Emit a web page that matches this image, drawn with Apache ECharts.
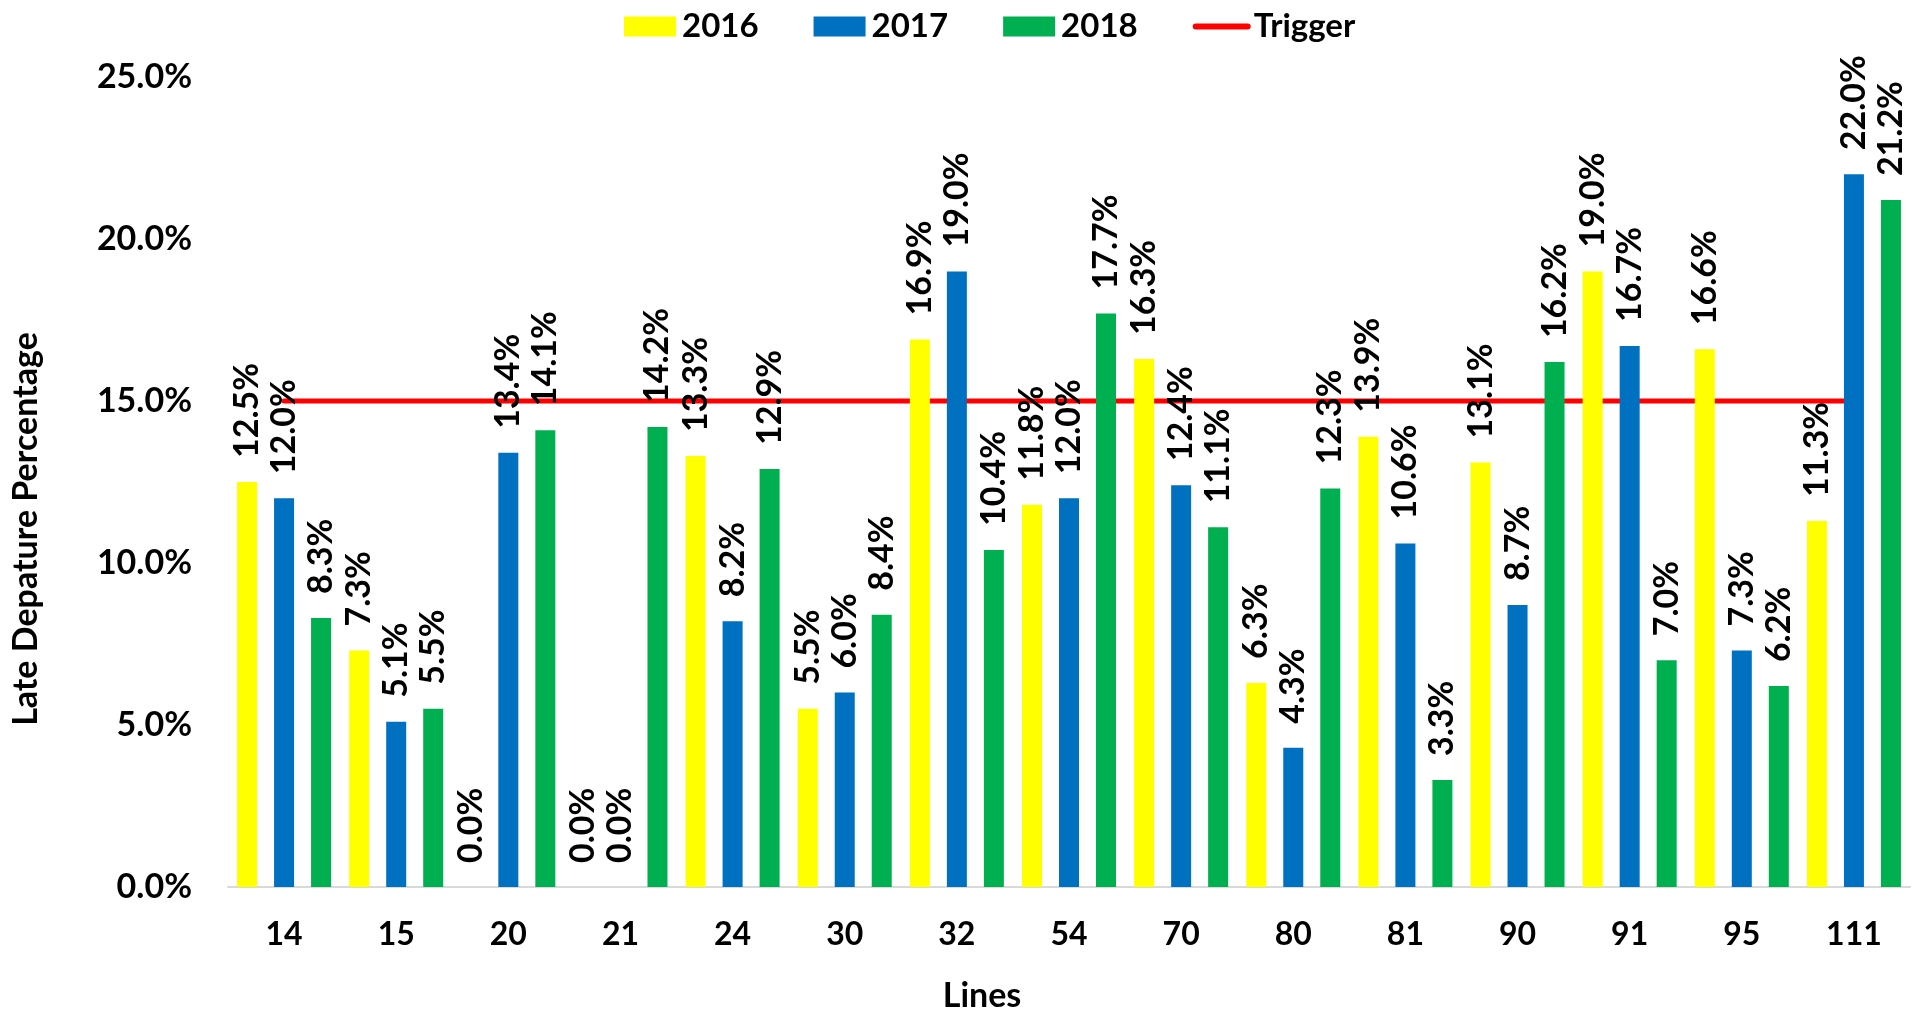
<!DOCTYPE html>
<html>
<head>
<meta charset="utf-8">
<title>Late Departure Percentage by Line</title>
<script src="https://cdn.jsdelivr.net/npm/echarts@6/dist/echarts.min.js"></script>
<style>
  html, body { margin: 0; padding: 0; background: #fff; }
  #chart { width: 1919px; height: 1009px; }
</style>
</head>
<body>
<div id="chart"></div>
<script>
  // lines (categories) and yearly late departure percentages
  const lines = ['14', '15', '20', '21', '24', '30', '32', '54', '70', '80', '81', '90', '91', '95', '111']
  const y2016 = [12.5, 7.3, 0.0, 0.0, 13.3, 5.5, 16.9, 11.8, 16.3, 6.3, 13.9, 13.1, 19.0, 16.6, 11.3]
  const y2017 = [12.0, 5.1, 13.4, 0.0, 8.2, 6.0, 19.0, 12.0, 12.4, 4.3, 10.6, 8.7, 16.7, 7.3, 22.0]
  const y2018 = [8.3, 5.5, 14.1, 14.2, 12.9, 8.4, 10.4, 17.7, 11.1, 12.3, 3.3, 16.2, 7.0, 6.2, 21.2]
  const triggerLevel = 15.0
  const yTicks = { min: 0, max: 25, interval: 5 }

  const FONT = 'Lato, "Noto Sans", sans-serif'

  const pct = v => v.toFixed(1) + '%'

  function barSeries (name, data, color) {
    return {
      name,
      type: 'bar',
      data,
      barWidth: 20,
      barGap: '85%',
      itemStyle: { color },
      label: {
        show: true,
        position: 'top',
        rotate: 90,
        align: 'left',
        verticalAlign: 'middle',
        distance: 24,
        color: '#000',
        fontFamily: FONT,
        fontWeight: 'bold',
        fontSize: 34,
        formatter: p => pct(p.value)
      }
    }
  }

  const chart = echarts.init(document.getElementById('chart'))
  chart.setOption({
    animation: false,
    backgroundColor: '#fff',
    textStyle: { fontFamily: FONT },
    legend: {
      top: 5,
      left: 619,
      itemWidth: 52,
      itemHeight: 20,
      itemGap: 55,
      textStyle: { color: '#000', fontFamily: FONT, fontWeight: 'bold', fontSize: 33, padding: [0, 0, 0, 1] },
      data: [
        { name: '2016', icon: 'rect' },
        { name: '2017', icon: 'rect' },
        { name: '2018', icon: 'rect' },
        { name: 'Trigger', itemStyle: { opacity: 0 }, lineStyle: { width: 6, cap: 'round' } }
      ]
    },
    grid: {
      left: 228,
      right: 9,
      top: 77,
      bottom: 122,
      containLabel: false,
      outerBoundsMode: 'none'
    },
    xAxis: {
      type: 'category',
      data: lines,
      name: 'Lines',
      nameLocation: 'middle',
      nameGap: 92,
      nameTextStyle: { color: '#000', fontFamily: FONT, fontWeight: 'bold', fontSize: 34, padding: [0, 174, 0, 0] },
      axisLine: { lineStyle: { color: '#d9d9d9', width: 2 } },
      axisTick: { show: false },
      axisLabel: { color: '#000', fontFamily: FONT, fontWeight: 'bold', fontSize: 32, margin: 32 }
    },
    yAxis: {
      type: 'value',
      min: yTicks.min,
      max: yTicks.max,
      interval: yTicks.interval,
      name: 'Late Depature Percentage',
      nameLocation: 'middle',
      nameGap: 185,
      nameRotate: 90,
      nameTextStyle: { color: '#000', fontFamily: FONT, fontWeight: 'bold', fontSize: 34, padding: [0, 94, 0, 0] },
      axisLine: { show: false },
      axisTick: { show: false },
      splitLine: { show: false },
      axisLabel: { color: '#000', fontFamily: FONT, fontWeight: 'bold', fontSize: 34, margin: 36, formatter: v => pct(v) }
    },
    series: [
      barSeries('2016', y2016, '#FFFF00'),
      barSeries('2017', y2017, '#0070C0'),
      barSeries('2018', y2018, '#00B050'),
      {
        name: 'Trigger',
        type: 'line',
        data: lines.map(() => triggerLevel),
        symbol: 'none',
        itemStyle: { color: '#FF0000' },
        lineStyle: { color: '#FF0000', width: 5, cap: 'round' },
        z: 1
      }
    ]
  })
</script>
</body>
</html>
